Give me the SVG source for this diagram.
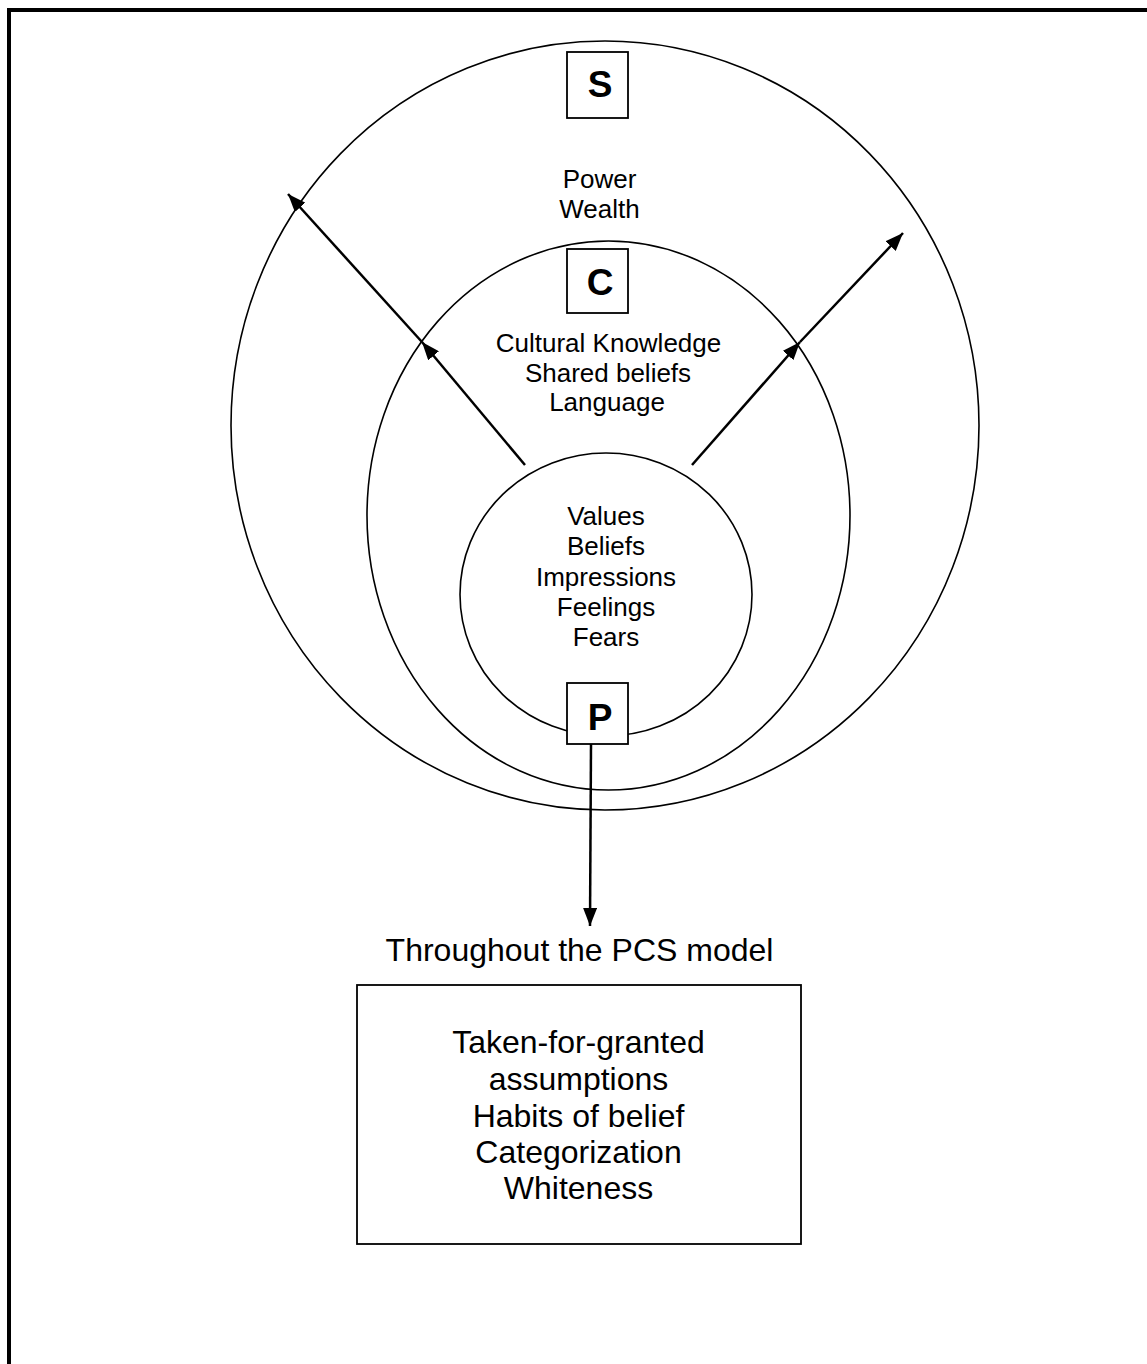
<svg xmlns="http://www.w3.org/2000/svg" width="1147" height="1364" viewBox="0 0 1147 1364">
<style>
.ring{fill:none;stroke:#000;stroke-width:1.6}
.box{fill:#fff;stroke:#000;stroke-width:1.8}
.t{font-family:"Liberation Sans",Arial,sans-serif;font-size:26px;text-anchor:middle;fill:#000}
.tl{font-family:"Liberation Sans",Arial,sans-serif;font-size:32px;text-anchor:middle;fill:#000}
.lt{font-family:"Liberation Sans",Arial,sans-serif;font-size:37px;font-weight:bold;text-anchor:middle;fill:#000}
.arr{stroke:#000;stroke-width:2.5;fill:none;marker-end:url(#ah)}
</style>
<defs>
<marker id="ah" markerUnits="userSpaceOnUse" markerWidth="20" markerHeight="14" refX="18" refY="7" orient="auto">
<path d="M0,0 L18,7 L0,14 Z" fill="#000"/>
</marker>
</defs>
<rect width="1147" height="1364" fill="#fff"/>
<rect x="9" y="10" width="1300" height="1500" fill="none" stroke="#000" stroke-width="4"/>
<g id="outer-circle"><ellipse class="ring" cx="605" cy="425.5" rx="374" ry="384.5"/></g>
<g id="middle-circle"><ellipse class="ring" cx="608.5" cy="515.5" rx="241.5" ry="274.5"/></g>
<g id="inner-circle"><ellipse class="ring" cx="606" cy="594.5" rx="146" ry="141.5"/></g>
<g id="connectors">
<line class="arr" x1="525" y1="465" x2="422" y2="342"/>
<line class="arr" x1="422" y1="342" x2="288" y2="194"/>
<line class="arr" x1="692" y1="465" x2="800" y2="342"/>
<line class="arr" x1="800" y1="342" x2="903" y2="233"/>
<line class="arr" x1="591" y1="744" x2="590" y2="926"/>
</g>
<g id="node-S"><rect class="box" x="567" y="52" width="61" height="66"/><text class="lt" x="600" y="97">S</text></g>
<g id="node-S-text"><text class="t" x="599.5" y="188">Power</text><text class="t" x="599.5" y="218">Wealth</text></g>
<g id="node-C"><rect class="box" x="567" y="249" width="61" height="64"/><text class="lt" x="600" y="295">C</text></g>
<g id="node-C-text"><text class="t" x="608.5" y="352">Cultural Knowledge</text><text class="t" x="608" y="382">Shared beliefs</text><text class="t" x="607" y="411">Language</text></g>
<g id="node-P-text"><text class="t" x="606" y="525">Values</text><text class="t" x="606" y="555">Beliefs</text><text class="t" x="606" y="586">Impressions</text><text class="t" x="606" y="616">Feelings</text><text class="t" x="606" y="646">Fears</text></g>
<g id="node-P"><rect class="box" x="567" y="683" width="61" height="61"/><text class="lt" x="600" y="730">P</text></g>
<g id="node-title"><text class="tl" x="579.5" y="961">Throughout the PCS model</text></g>
<g id="node-assumptions"><rect class="box" x="357" y="985" width="444" height="259"/>
<text class="tl" x="578.5" y="1053">Taken-for-granted</text><text class="tl" x="578.5" y="1090">assumptions</text><text class="tl" x="578.5" y="1127">Habits of belief</text><text class="tl" x="578.5" y="1163">Categorization</text><text class="tl" x="578.5" y="1199">Whiteness</text></g>
</svg>
